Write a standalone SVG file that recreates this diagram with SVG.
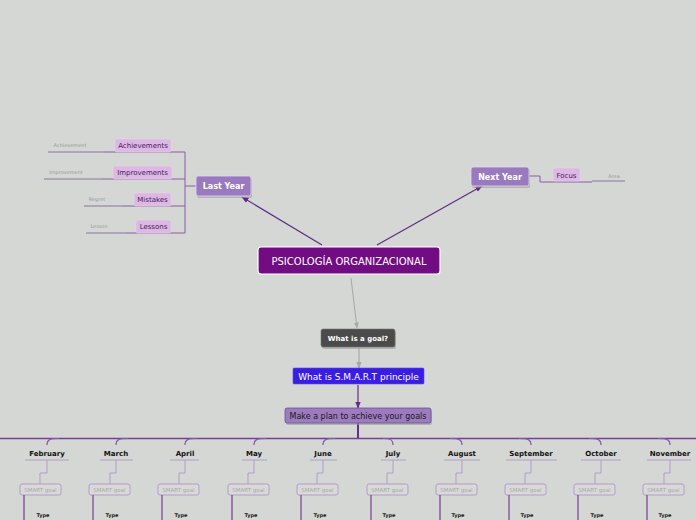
<svg xmlns="http://www.w3.org/2000/svg" width="696" height="520" viewBox="0 0 696 520">
<defs>
<style>
text{font-family:"DejaVu Sans","Liberation Sans",sans-serif}
.sub rect{fill:#dcb8e2;stroke:#e8d4ec;stroke-width:0.6}
.sub text{font-size:7px;fill:#4a1a5e;text-anchor:middle}
.leaf{font-size:5px;fill:#9a9a9a;text-anchor:middle}
.br{fill:none;stroke:#8a5ca8;stroke-width:1}
.leafl{fill:none;stroke:#7a5a94;stroke-width:0.8}
.mon text.m{font-size:7px;font-weight:bold;fill:#111;text-anchor:middle}
.mon rect{fill:#d8d9d8;stroke:#b49ccc;stroke-width:1}
.mon text.g{font-size:5.5px;fill:#aaa;text-anchor:middle}
.mon text.t{font-size:5px;font-weight:bold;fill:#222;text-anchor:middle}
.ml{fill:none;stroke:#b49ccc;stroke-width:1}
.mc{fill:none;stroke:#8a5caa;stroke-width:1.2}
.tl{fill:none;stroke:#7a3c9a;stroke-width:1.2}
.shadow{fill:#9a9a9a;opacity:0.6}
</style>
<marker id="ap" viewBox="0 0 10 10" refX="9" refY="5" markerWidth="6" markerHeight="6" orient="auto"><path d="M0,1 L10,5 L0,9 z" fill="#5e2a86"/></marker>
<marker id="ag" viewBox="0 0 10 10" refX="9" refY="5" markerWidth="6" markerHeight="6" orient="auto"><path d="M0,1 L10,5 L0,9 z" fill="#a8a8a8"/></marker>
<marker id="ap2" viewBox="0 0 10 10" refX="9" refY="5" markerWidth="6" markerHeight="6" orient="auto"><path d="M0,1 L10,5 L0,9 z" fill="#6a2a8e"/></marker>
</defs>
<rect width="696" height="520" fill="#d4d7d4"/>

<g id="connectors">
<path d="M322,245 L242,197" stroke="#5e2a86" stroke-width="1.2" fill="none" marker-end="url(#ap)"/>
<path d="M377,245 L482,186" stroke="#5e2a86" stroke-width="1.2" fill="none" marker-end="url(#ap)"/>
<path d="M351,278 L357,328" stroke="#a8a8a8" stroke-width="1" fill="none" marker-end="url(#ag)"/>
<path d="M359,348 L359,368" stroke="#a8a8a8" stroke-width="1.2" fill="none" marker-end="url(#ag)"/>
<path d="M358,385 L358,408" stroke="#6a2a8e" stroke-width="1.2" fill="none" marker-end="url(#ap2)"/>
<path d="M358,423 V438" stroke="#6a2a8e" stroke-width="2" fill="none"/>
<path d="M0,438.5 H696" stroke="#7a3c9a" stroke-width="1.5" fill="none"/>
<path class="br" d="M196,186 H185 M185,152 V233"/>
<path class="br" d="M185,152 H104 M185,179 H102 M185,206 H123 M185,233 H126"/>
<path class="leafl" d="M104,152 H48 M102,179 H44 M123,206 H84 M126,233 H86"/>
<path class="br" d="M529,176 H540 V182 H592"/>
<path class="leafl" d="M592,181 H625"/>
</g>

<g id="main">
<rect x="258" y="247" width="182" height="27" rx="3" fill="#720c82" stroke="#ffffff" stroke-width="1.2"/>
<text x="349" y="264.5" font-size="10" fill="#ffffff" text-anchor="middle">PSICOLOGÍA ORGANIZACIONAL</text>
</g>

<g id="last-year">
<rect x="197" y="178" width="55" height="20" rx="2" class="shadow"/>
<rect x="196" y="176" width="55" height="20" rx="2" fill="#9a7abf" stroke="#e4daee" stroke-width="0.8"/>
<text x="223.5" y="189" font-size="8" font-weight="bold" fill="#ffffff" text-anchor="middle">Last Year</text>
</g>
<g id="achievements" class="sub"><rect x="115" y="139" width="56" height="13" rx="2"/><text x="143" y="148">Achievements</text></g>
<g id="improvements" class="sub"><rect x="113" y="166" width="59" height="13" rx="2"/><text x="142.5" y="175">Improvements</text></g>
<g id="mistakes" class="sub"><rect x="134" y="193" width="37" height="13" rx="2"/><text x="152.5" y="202">Mistakes</text></g>
<g id="lessons" class="sub"><rect x="136" y="220" width="35" height="13" rx="2"/><text x="153.5" y="229">Lessons</text></g>
<g id="achievement"><text class="leaf" x="70" y="147">Achievement</text></g>
<g id="improvement"><text class="leaf" x="66" y="174">Improvement</text></g>
<g id="regret"><text class="leaf" x="97" y="201">Regret</text></g>
<g id="lesson"><text class="leaf" x="99" y="228">Lesson</text></g>

<g id="next-year">
<rect x="472" y="169" width="58" height="19" rx="2" class="shadow"/>
<rect x="471" y="167" width="58" height="19" rx="2" fill="#9a7abf" stroke="#e4daee" stroke-width="0.8"/>
<text x="500" y="179.5" font-size="8" font-weight="bold" fill="#ffffff" text-anchor="middle">Next Year</text>
</g>
<g id="focus" class="sub"><rect x="553" y="168" width="27" height="13" rx="2"/><text x="566.5" y="178">Focus</text></g>
<g id="area"><text class="leaf" x="614" y="178">Area</text></g>

<g id="what-goal">
<rect x="322" y="331" width="74" height="18" rx="2" class="shadow"/>
<rect x="321" y="329" width="74" height="18" rx="2" fill="#4b4b4b" stroke="#777" stroke-width="0.6"/>
<text x="358" y="341" font-size="7" font-weight="bold" fill="#ffffff" text-anchor="middle">What is a goal?</text>
</g>
<g id="smart">
<rect x="293" y="368" width="131" height="16" rx="1" fill="#3a1ee0" stroke="#5a48ea" stroke-width="0.6"/>
<text x="358.5" y="379.5" font-size="9" fill="#ffffff" text-anchor="middle">What is S.M.A.R.T principle</text>
</g>
<g id="plan">
<rect x="286" y="410" width="146" height="15" rx="2" class="shadow"/>
<rect x="285" y="408" width="146" height="15" rx="2" fill="#9c7cbe" stroke="#6e4e90" stroke-width="0.8"/>
<text x="358" y="418.5" font-size="8" fill="#1a1a1a" text-anchor="middle">Make a plan to achieve your goals</text>
</g>

<g id="month-connectors">
<path class="mc" d="M47,445 C47,440 49,438.5 59,438.5"/>
<path class="mc" d="M116,445 C116,440 118,438.5 128,438.5"/>
<path class="mc" d="M185,445 C185,440 187,438.5 197,438.5"/>
<path class="mc" d="M254,445 C254,440 256,438.5 266,438.5"/>
<path class="mc" d="M323,445 C323,440 325,438.5 335,438.5"/>
<path class="mc" d="M393,445 C393,440 391,438.5 383,438.5"/>
<path class="mc" d="M462,445 C462,440 460,438.5 450,438.5"/>
<path class="mc" d="M531,445 C531,440 529,438.5 519,438.5"/>
<path class="mc" d="M601,445 C601,440 599,438.5 589,438.5"/>
<path class="mc" d="M670,445 C670,440 668,438.5 658,438.5"/>
</g>

<g id="february" class="mon">
<text class="m" x="47" y="456">February</text>
<path class="ml" d="M25,460 H69 M47,460 V473 H40 V484"/>
<rect x="20" y="484" width="41" height="11" rx="2"/><text class="g" x="40.5" y="491.5">SMART goal</text>
<path class="tl" d="M24,495 V520"/><text class="t" x="43" y="517">Type</text>
</g>
<g id="march" class="mon">
<text class="m" x="116" y="456">March</text>
<path class="ml" d="M100,460 H133 M116,460 V473 H110 V484"/>
<rect x="89" y="484" width="41" height="11" rx="2"/><text class="g" x="109.5" y="491.5">SMART goal</text>
<path class="tl" d="M93,495 V520"/><text class="t" x="112" y="517">Type</text>
</g>
<g id="april" class="mon">
<text class="m" x="185" y="456">April</text>
<path class="ml" d="M170,460 H199 M185,460 V473 H179 V484"/>
<rect x="158" y="484" width="41" height="11" rx="2"/><text class="g" x="178.5" y="491.5">SMART goal</text>
<path class="tl" d="M162,495 V520"/><text class="t" x="181" y="517">Type</text>
</g>
<g id="may" class="mon">
<text class="m" x="254" y="456">May</text>
<path class="ml" d="M242,460 H267 M254,460 V473 H248 V484"/>
<rect x="228" y="484" width="41" height="11" rx="2"/><text class="g" x="248.5" y="491.5">SMART goal</text>
<path class="tl" d="M232,495 V520"/><text class="t" x="251" y="517">Type</text>
</g>
<g id="june" class="mon">
<text class="m" x="323" y="456">June</text>
<path class="ml" d="M310,460 H337 M323,460 V473 H317 V484"/>
<rect x="297" y="484" width="41" height="11" rx="2"/><text class="g" x="317.5" y="491.5">SMART goal</text>
<path class="tl" d="M301,495 V520"/><text class="t" x="320" y="517">Type</text>
</g>
<g id="july" class="mon">
<text class="m" x="393" y="456">July</text>
<path class="ml" d="M381,460 H406 M393,460 V473 H387 V484"/>
<rect x="367" y="484" width="41" height="11" rx="2"/><text class="g" x="387.5" y="491.5">SMART goal</text>
<path class="tl" d="M371,495 V520"/><text class="t" x="389" y="517">Type</text>
</g>
<g id="august" class="mon">
<text class="m" x="462" y="456">August</text>
<path class="ml" d="M444,460 H480 M462,460 V473 H456 V484"/>
<rect x="436" y="484" width="41" height="11" rx="2"/><text class="g" x="456.5" y="491.5">SMART goal</text>
<path class="tl" d="M440,495 V520"/><text class="t" x="458" y="517">Type</text>
</g>
<g id="september" class="mon">
<text class="m" x="531" y="456">September</text>
<path class="ml" d="M506,460 H557 M531,460 V473 H525 V484"/>
<rect x="505" y="484" width="41" height="11" rx="2"/><text class="g" x="525.5" y="491.5">SMART goal</text>
<path class="tl" d="M509,495 V520"/><text class="t" x="527" y="517">Type</text>
</g>
<g id="october" class="mon">
<text class="m" x="601" y="456">October</text>
<path class="ml" d="M581,460 H621 M601,460 V473 H595 V484"/>
<rect x="574" y="484" width="41" height="11" rx="2"/><text class="g" x="594.5" y="491.5">SMART goal</text>
<path class="tl" d="M578,495 V520"/><text class="t" x="597" y="517">Type</text>
</g>
<g id="november" class="mon">
<text class="m" x="670" y="456">November</text>
<path class="ml" d="M647,460 H691 M670,460 V473 H664 V484"/>
<rect x="643" y="484" width="41" height="11" rx="2"/><text class="g" x="663.5" y="491.5">SMART goal</text>
<path class="tl" d="M647,495 V520"/><text class="t" x="665" y="517">Type</text>
</g>
</svg>
